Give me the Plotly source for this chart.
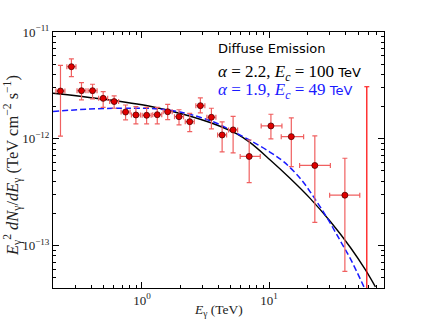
import plotly.graph_objects as go

# measured spectrum (TeV, TeV cm^-2 s^-1)
energy = [0.229, 0.279, 0.335, 0.409, 0.496, 0.605, 0.744, 0.897, 1.089, 1.32, 1.594,
          1.957, 2.376, 2.88, 3.517, 4.27, 5.21, 6.97, 10.33, 14.94, 22.87, 39.4]
energy_lo = [0.211, 0.257, 0.309, 0.377, 0.457, 0.558, 0.686, 0.827, 1.004, 1.217, 1.469,
             1.804, 2.19, 2.654, 3.241, 3.935, 4.80, 5.92, 8.66, 12.45, 17.36, 29.9]
energy_hi = [0.248, 0.303, 0.363, 0.444, 0.538, 0.656, 0.807, 0.973, 1.182, 1.432, 1.729,
             2.123, 2.578, 3.125, 3.816, 4.633, 5.653, 8.51, 12.61, 18.67, 30.3, 51.6]
flux = [2.80e-12, 4.73e-12, 2.82e-12, 2.82e-12, 2.39e-12, 2.23e-12, 1.78e-12, 1.67e-12,
        1.66e-12, 1.68e-12, 1.79e-12, 1.61e-12, 1.445e-12, 2.04e-12, 1.59e-12, 1.085e-12,
        1.21e-12, 6.83e-13, 1.318e-12, 1.047e-12, 5.62e-13, 2.96e-13]
flux_hi = [4.86e-12, 5.59e-12, 3.35e-12, 3.24e-12, 2.76e-12, 2.52e-12, 2.07e-12, 2.00e-12,
           1.97e-12, 1.97e-12, 2.10e-12, 1.87e-12, 1.73e-12, 2.41e-12, 1.93e-12, 1.437e-12,
           1.62e-12, 9.74e-13, 1.696e-12, 1.566e-12, 1.062e-12, 6.57e-13]
flux_lo = [1.06e-12, 3.82e-12, 2.31e-12, 2.36e-12, 1.97e-12, 1.93e-12, 1.50e-12, 1.376e-12,
           1.38e-12, 1.38e-12, 1.51e-12, 1.35e-12, 1.165e-12, 1.745e-12, 1.235e-12, 7.52e-13,
           7.36e-13, 3.88e-13, 9.96e-13, 5.48e-13, 1.65e-13, 5.72e-14]

# last bin: only the error bar reaches into the plot
last_energy = [58.6]
last_flux = [1e-14]
last_flux_hi = [3.07e-12]

# model curves
model1_e = [0.2, 0.467, 1.156, 2.115, 3.878, 5.574, 7.10, 10.2, 14.66, 21.08, 30.29, 43.56,
            57.2, 68.5]
model1_f = [2.67e-12, 2.37e-12, 2.015e-12, 1.696e-12, 1.346e-12, 1.109e-12, 9.19e-13,
            6.33e-13, 4.24e-13, 2.75e-13, 1.678e-13, 9.58e-14, 5.90e-14, 4.09e-14]
model2_e = [0.2, 0.389, 0.712, 1.266, 2.115, 2.864, 3.878, 5.24, 7.10, 10.2, 12.99, 17.58,
            22.38, 29.2, 36.3, 43.6, 55.6]
model2_f = [1.80e-12, 1.90e-12, 1.93e-12, 1.913e-12, 1.756e-12, 1.589e-12, 1.396e-12,
            1.165e-12, 9.64e-13, 7.47e-13, 6.10e-13, 4.25e-13, 2.85e-13, 1.737e-13,
            1.104e-13, 7.49e-14, 4.10e-14]

x_major = [1, 10]
x_major_text = ['10<sup>0</sup>', '10<sup>1</sup>']
y_major = [1e-13, 1e-12, 1e-11]
y_major_text = ['10<sup>\u221213</sup>', '10<sup>\u221212</sup>', '10<sup>\u221211</sup>']

serif = 'Liberation Serif'
err_col = '#f06060'
blue = '#1a1aff'

fig = go.Figure()
fig.add_trace(go.Scatter(
    x=model1_e, y=model1_f, mode='lines', line=dict(color='black', width=1.4, shape='spline'),
    showlegend=False))
fig.add_trace(go.Scatter(
    x=model2_e, y=model2_f, mode='lines',
    line=dict(color=blue, width=1.5, dash='6px,3px', shape='spline'), showlegend=False))
fig.add_trace(go.Scatter(
    x=energy, y=flux, mode='markers',
    marker=dict(color='#e00000', size=6, line=dict(color='#500000', width=0.8)),
    error_x=dict(type='data', symmetric=False,
                 array=[h - e for h, e in zip(energy_hi, energy)],
                 arrayminus=[e - l for e, l in zip(energy, energy_lo)],
                 color=err_col, thickness=1.2, width=2.5),
    error_y=dict(type='data', symmetric=False,
                 array=[h - f for h, f in zip(flux_hi, flux)],
                 arrayminus=[f - l for f, l in zip(flux, flux_lo)],
                 color=err_col, thickness=1.2, width=2.5),
    showlegend=False))
fig.add_trace(go.Scatter(
    x=last_energy, y=last_flux, mode='markers', marker=dict(color='#e00000', size=6),
    error_y=dict(type='data', symmetric=False,
                 array=[h - f for h, f in zip(last_flux_hi, last_flux)],
                 arrayminus=[0], color='#ff0000', thickness=1.2, width=2.5),
    showlegend=False))

axis_common = dict(
    type='log', showline=True, linecolor='black', linewidth=1, mirror='ticks',
    ticks='inside', ticklen=6, tickcolor='black', tickwidth=1, showgrid=False,
    zeroline=False, tickmode='array', automargin=False,
    tickfont=dict(family=serif, size=13, color='#222'),
)
fig.update_xaxes(
    **axis_common, range=[-0.699, 1.903], tickvals=x_major, ticktext=x_major_text,
    minor=dict(tickvals=[m * 10 ** e for e in (-1, 0, 1) for m in range(2, 10)],
               ticks='inside', ticklen=3, tickcolor='black'))
fig.update_yaxes(
    **axis_common, range=[-13.398, -11], tickvals=y_major, ticktext=y_major_text,
    minor=dict(tickvals=[m * 10 ** e for e in (-14, -13, -12) for m in range(2, 10)],
               ticks='inside', ticklen=3, tickcolor='black'))

# axis titles
fig.add_annotation(
    x=0.5, y=-0.088, xref='paper', yref='paper', showarrow=False,
    text='<i>E</i><sub>\u03b3</sub> (TeV)', yanchor='middle',
    font=dict(family=serif, size=13.5, color='#222'))
fig.add_annotation(
    x=-0.124, y=0.48, xref='paper', yref='paper', showarrow=False, textangle=-90,
    text='<i>E</i><sub>\u03b3</sub><sup>2</sup> <i>dN</i><sub>\u03b3</sub>/<i>dE</i><sub>\u03b3</sub>'
         ' (TeV cm<sup>\u22122</sup> s<sup>\u22121</sup>)',
    xanchor='center', yanchor='middle',
    font=dict(family=serif, size=16.5, color='#222'))

math = 'font-family:Liberation Serif;font-size:17px'
notes = [
    ('Diffuse Emission', 0.936, 'black'),
    ('<span style="%s"><i>\u03b1</i> = 2.2, <i>E</i><sub><i>c</i></sub> = 100</span> TeV' % math,
     0.841, 'black'),
    ('<span style="%s"><i>\u03b1</i> = 1.9, <i>E</i><sub><i>c</i></sub> = 49</span> TeV' % math,
     0.768, blue),
]
for txt, yy, col in notes:
    fig.add_annotation(x=0.492, y=yy, xref='paper', yref='paper', text=txt, showarrow=False,
                       xanchor='left', yanchor='middle',
                       font=dict(family='DejaVu Sans', size=13, color=col))

fig.update_layout(
    width=426, height=320, margin=dict(l=53, r=42, t=32, b=32, autoexpand=False),
    plot_bgcolor='white', paper_bgcolor='white', showlegend=False,
)
fig.write_html('out.html', config={'displayModeBar': False},
               post_script="document.body.style.margin='0';")
